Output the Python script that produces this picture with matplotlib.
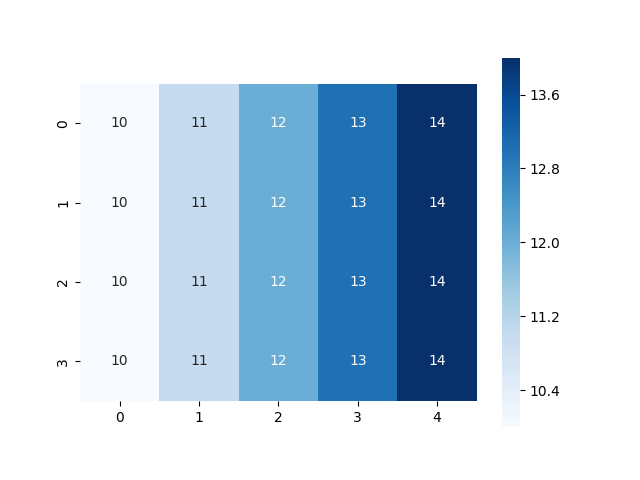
import matplotlib
matplotlib.use("Agg")
import matplotlib.pyplot as plt
import seaborn as sns
import numpy as np

rows = ["0", "1", "2", "3"]
cols = ["0", "1", "2", "3", "4"]
row_values = [10, 11, 12, 13, 14]
data = np.array([row_values for _ in rows])
cbar_ticks = [10.4, 11.2, 12.0, 12.8, 13.6]

fig, ax = plt.subplots(figsize=(6.4, 4.8), dpi=100)
sns.heatmap(data, ax=ax, cmap="Blues", annot=True, square=True,
            xticklabels=cols, yticklabels=rows,
            cbar_kws={"ticks": cbar_ticks})
ax.collections[0].colorbar.ax.set_yticklabels([f"{t:.1f}" for t in cbar_ticks])
fig.savefig("out.png", dpi=100)
